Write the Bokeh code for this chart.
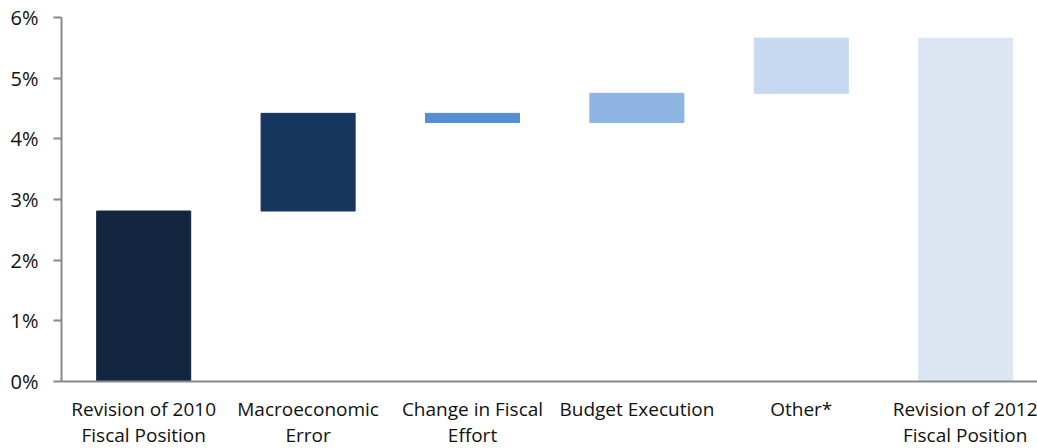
import numpy as np
from bokeh.plotting import figure
from bokeh.models import Range1d, FixedTicker, ColumnDataSource, PrintfTickFormatter
from bokeh.embed import file_html
from bokeh.resources import INLINE

# ---- data (percent of GDP) ----
categories = [
    "Revision of 2010\nFiscal Position",
    "Macroeconomic\nError",
    "Change in Fiscal\nEffort",
    "Budget Execution",
    "Other*",
    "Revision of 2012\nFiscal Position",
]
start_value = 2.81          # Revision of 2010 fiscal position
step_changes = [1.61, -0.15, 0.48, 0.91]   # Macro error, fiscal effort, budget execution, other
colors = ["#13263f", "#17375e", "#558ed5", "#8eb4e3", "#c6d9f1", "#dce6f2"]
y_ticks = [0, 1, 2, 3, 4, 5, 6]

# ---- waterfall geometry from data ----
bottoms = [0.0]
tops = [start_value]
level = start_value
for c in step_changes:
    new = level + c
    bottoms.append(min(level, new))
    tops.append(max(level, new))
    level = new
bottoms.append(0.0)
tops.append(level)

xs = [i + 0.5 for i in range(len(categories))]
src = ColumnDataSource(dict(x=xs, bottom=bottoms, top=tops, color=colors))

FW, FH = 976, 364
left_border = 61
cat_px = 164.4
x_end = FW / cat_px

p = figure(frame_width=FW, frame_height=FH, output_backend="svg", toolbar_location=None,
           x_range=Range1d(0, x_end), y_range=Range1d(0, 6),
           min_border_left=left_border, min_border_right=0,
           min_border_top=17, min_border_bottom=62)

p.vbar(x="x", bottom="bottom", top="top", width=0.572, color="color", source=src)

p.xgrid.visible = False
p.ygrid.visible = False
p.outline_line_color = None

font = "Open Sans"
# x axis
p.xaxis.ticker = FixedTicker(ticks=xs)
p.xaxis.major_label_overrides = {x: c for x, c in zip(xs, categories)}
p.xaxis.major_tick_line_color = None
p.xaxis.minor_tick_line_color = None
p.xaxis.axis_line_color = "#898989"
p.xaxis.axis_line_width = 2
p.xaxis.major_label_text_font = font
p.xaxis.major_label_text_font_size = "19px"
p.xaxis.major_label_text_color = "#111111"
p.xaxis.major_label_standoff = 8
p.xaxis.major_label_text_line_height = 1.02

# y axis
p.yaxis.ticker = FixedTicker(ticks=y_ticks)
p.yaxis.formatter = PrintfTickFormatter(format="%d%%")
p.yaxis.minor_tick_line_color = None
p.yaxis.major_tick_out = 8
p.yaxis.major_tick_in = 0
p.yaxis.major_tick_line_color = "#898989"
p.yaxis.major_tick_line_width = 2
p.yaxis.axis_line_color = "#898989"
p.yaxis.axis_line_width = 2
p.yaxis.major_label_text_font = font
p.yaxis.major_label_text_font_size = "20px"
p.yaxis.major_label_text_color = "#111111"
p.yaxis.major_label_standoff = 15

open("out.html", "w").write(file_html(p, INLINE))
